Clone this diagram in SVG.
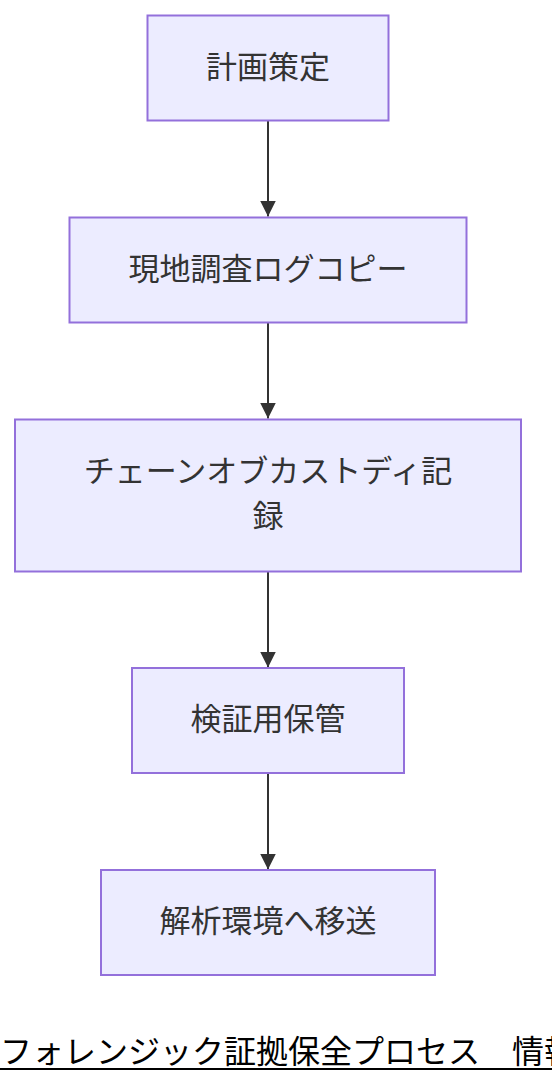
<svg xmlns="http://www.w3.org/2000/svg" width="552" height="1084" viewBox="0 0 552 1084">
<defs>
<style>
.node rect{fill:#ECECFF;stroke:#9370DB;stroke-width:2}
.node text{font-family:"Noto Sans CJK JP","Noto Sans",sans-serif;font-size:31px;fill:#333333;text-anchor:middle}
.edge{stroke:#333333;stroke-width:2;fill:none}
.title{font-family:"Noto Sans CJK JP","Noto Sans",sans-serif;font-size:32px;fill:#000000}
</style>
<marker id="arrow" markerUnits="userSpaceOnUse" markerWidth="16" markerHeight="16" viewBox="0 0 16 16" refX="16" refY="8" orient="auto">
<path d="M0,0 L16,8 L0,16 z" fill="#333333"/>
</marker>
</defs>
<rect width="552" height="1084" fill="#ffffff"/>
<g id="connectors">
<path class="edge" d="M268,121 L268,216.5" marker-end="url(#arrow)"/>
<path class="edge" d="M268,323 L268,418.5" marker-end="url(#arrow)"/>
<path class="edge" d="M268,572 L268,667.5" marker-end="url(#arrow)"/>
<path class="edge" d="M268,774 L268,869.5" marker-end="url(#arrow)"/>
</g>
<g id="node1" class="node">
<rect x="147.5" y="15.5" width="241" height="105"/>
<text x="268" y="78">計画策定</text>
</g>
<g id="node2" class="node">
<rect x="69.5" y="217.5" width="397" height="105"/>
<text x="268" y="280">現地調査ログコピー</text>
</g>
<g id="node3" class="node">
<rect x="15" y="419.5" width="506" height="152"/>
<text x="268" y="482">チェーンオブカストディ記</text>
<text x="268" y="527">録</text>
</g>
<g id="node4" class="node">
<rect x="132" y="668" width="272" height="105"/>
<text x="268" y="730">検証用保管</text>
</g>
<g id="node5" class="node">
<rect x="101" y="870" width="334" height="105"/>
<text x="268" y="932">解析環境へ移送</text>
</g>
<g id="title">
<text class="title" x="0" y="1063">フォレンジック証拠保全プロセス　情報</text>
<line x1="0" y1="1069" x2="552" y2="1069" stroke="#000000" stroke-width="2"/>
</g>
</svg>
